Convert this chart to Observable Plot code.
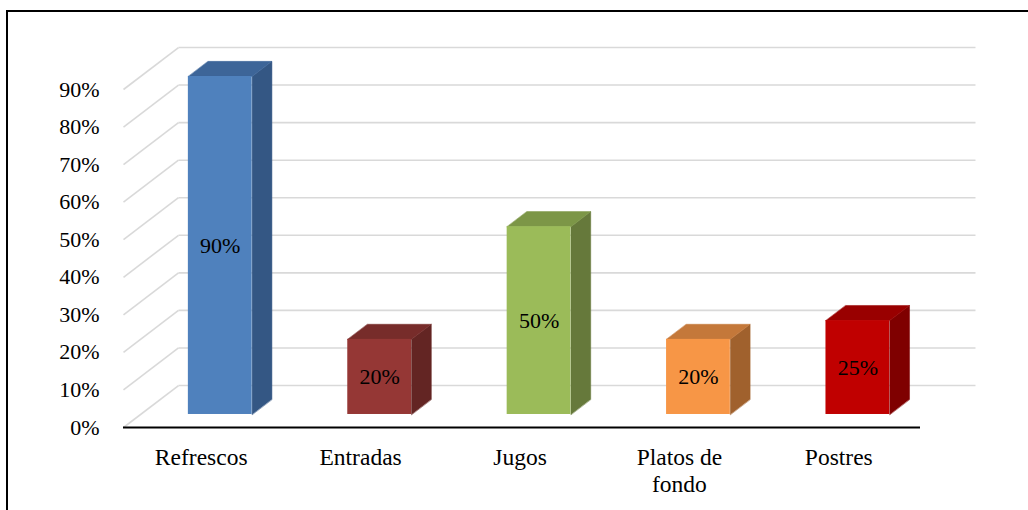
<!DOCTYPE html>
<html>
<head>
<meta charset="utf-8">
<script src="https://cdn.jsdelivr.net/npm/d3@7"></script>
<script src="https://cdn.jsdelivr.net/npm/@observablehq/plot@0.6"></script>
<style>
  html, body { margin: 0; padding: 0; background: #fff; overflow: hidden; }
  #wrap { position: relative; width: 1028px; height: 510px; }
  #frame { position: absolute; left: 6px; top: 10px; width: 1100px; height: 600px;
           border-left: 2px solid #000; border-top: 2px solid #000; pointer-events: none; }
  svg text { font-family: 'Liberation Serif', 'Times New Roman', serif !important; font-variant: normal !important; }
</style>
</head>
<body>
<div id="wrap"><div id="chart"></div><div id="frame"></div></div>
<script>
const categories = ["Refrescos", "Entradas", "Jugos", "Platos de fondo", "Postres"];
const values = [0.90, 0.20, 0.50, 0.20, 0.25];
const yTicks = [0, 0.1, 0.2, 0.3, 0.4, 0.5, 0.6, 0.7, 0.8, 0.9];
const frontColors = ["#4F81BD", "#953735", "#9BBB59", "#F79646", "#C00000"];
const topColors   = ["#3D6598", "#772C2A", "#7C9647", "#C4783A", "#990000"];
const sideColors  = ["#345784", "#632523", "#66793B", "#A0612D", "#7F0000"];

// oblique depth (in data units of x and y scales)
const DX = 0.345, DY = 0.1118;
const D0 = 0.31, D1 = 0.67, BW = 0.4;
const P = (x, y, d) => ({x: x + d * DX, y: y + d * DY});

// build faces from the values
const fronts = [], polys = [];
values.forEach((v, i) => {
  const x1 = i + (1 - BW) / 2, x2 = i + (1 + BW) / 2;
  const a = P(x1, 0, D0), b = P(x2, v, D0);
  fronts.push({x1: a.x, x2: b.x, y1: a.y, y2: b.y, color: frontColors[i]});
  [P(x2, 0, D0), P(x2, v, D0), P(x2, v, D1), P(x2, 0, D1)]
    .forEach(p => polys.push({...p, id: "s" + i, color: sideColors[i]}));
  [P(x1, v, D0), P(x2, v, D0), P(x2, v, D1), P(x1, v, D1)]
    .forEach(p => polys.push({...p, id: "t" + i, color: topColors[i]}));
});

const grid = [];
yTicks.forEach(t => {
  grid.push({x1: 0, y1: t, x2: DX, y2: t + DY});
  grid.push({x1: DX, y1: t + DY, x2: 5 + DX, y2: t + DY});
});

const pct = d3.format(".0%");
const serif = "'Liberation Serif', 'Times New Roman', serif";

const chart = Plot.plot({
  width: 1028, height: 510,
  marginLeft: 123, marginRight: 108, marginTop: 89, marginBottom: 83,
  x: {domain: [0, 5], axis: null},
  y: {domain: [0, 0.9], axis: null},
  color: {type: "identity"},
  style: {fontFamily: serif, background: "transparent", overflow: "visible", color: "#000"},
  marks: [
    Plot.link(grid, {x1: "x1", y1: "y1", x2: "x2", y2: "y2", stroke: "#D9D9D9", strokeWidth: 1.6}),
    Plot.ruleY([0], {stroke: "#000", strokeWidth: 2}),
    Plot.line(polys, {x: "x", y: "y", z: "id", fill: "color", stroke: "color", strokeWidth: 0.5, curve: "linear-closed"}),
    Plot.rect(fronts, {x1: "x1", x2: "x2", y1: "y1", y2: "y2", fill: "color", inset: 0}),
    Plot.axisY(yTicks, {tickSize: 0, tickPadding: 24, tickFormat: pct, fontSize: 22, label: null,
      fill: "#000", fontFamily: serif, fontVariant: "normal"}),
    Plot.text(categories, {x: (d, i) => i + 0.5, y: () => 0, text: d => d, dy: 19, dx: -2, lineAnchor: "top",
      lineWidth: 6, lineHeight: 1.13, fontSize: 23.5, fill: "#000", fontFamily: serif}),
    Plot.text(values, {x: (d, i) => i + 0.5 + D0 * DX, y: d => d / 2 + D0 * DY, text: d => pct(d),
      fontSize: 22, fill: "#000", fontFamily: serif, fontVariant: "normal"})
  ]
});
document.getElementById("chart").appendChild(chart);
</script>
</body>
</html>
